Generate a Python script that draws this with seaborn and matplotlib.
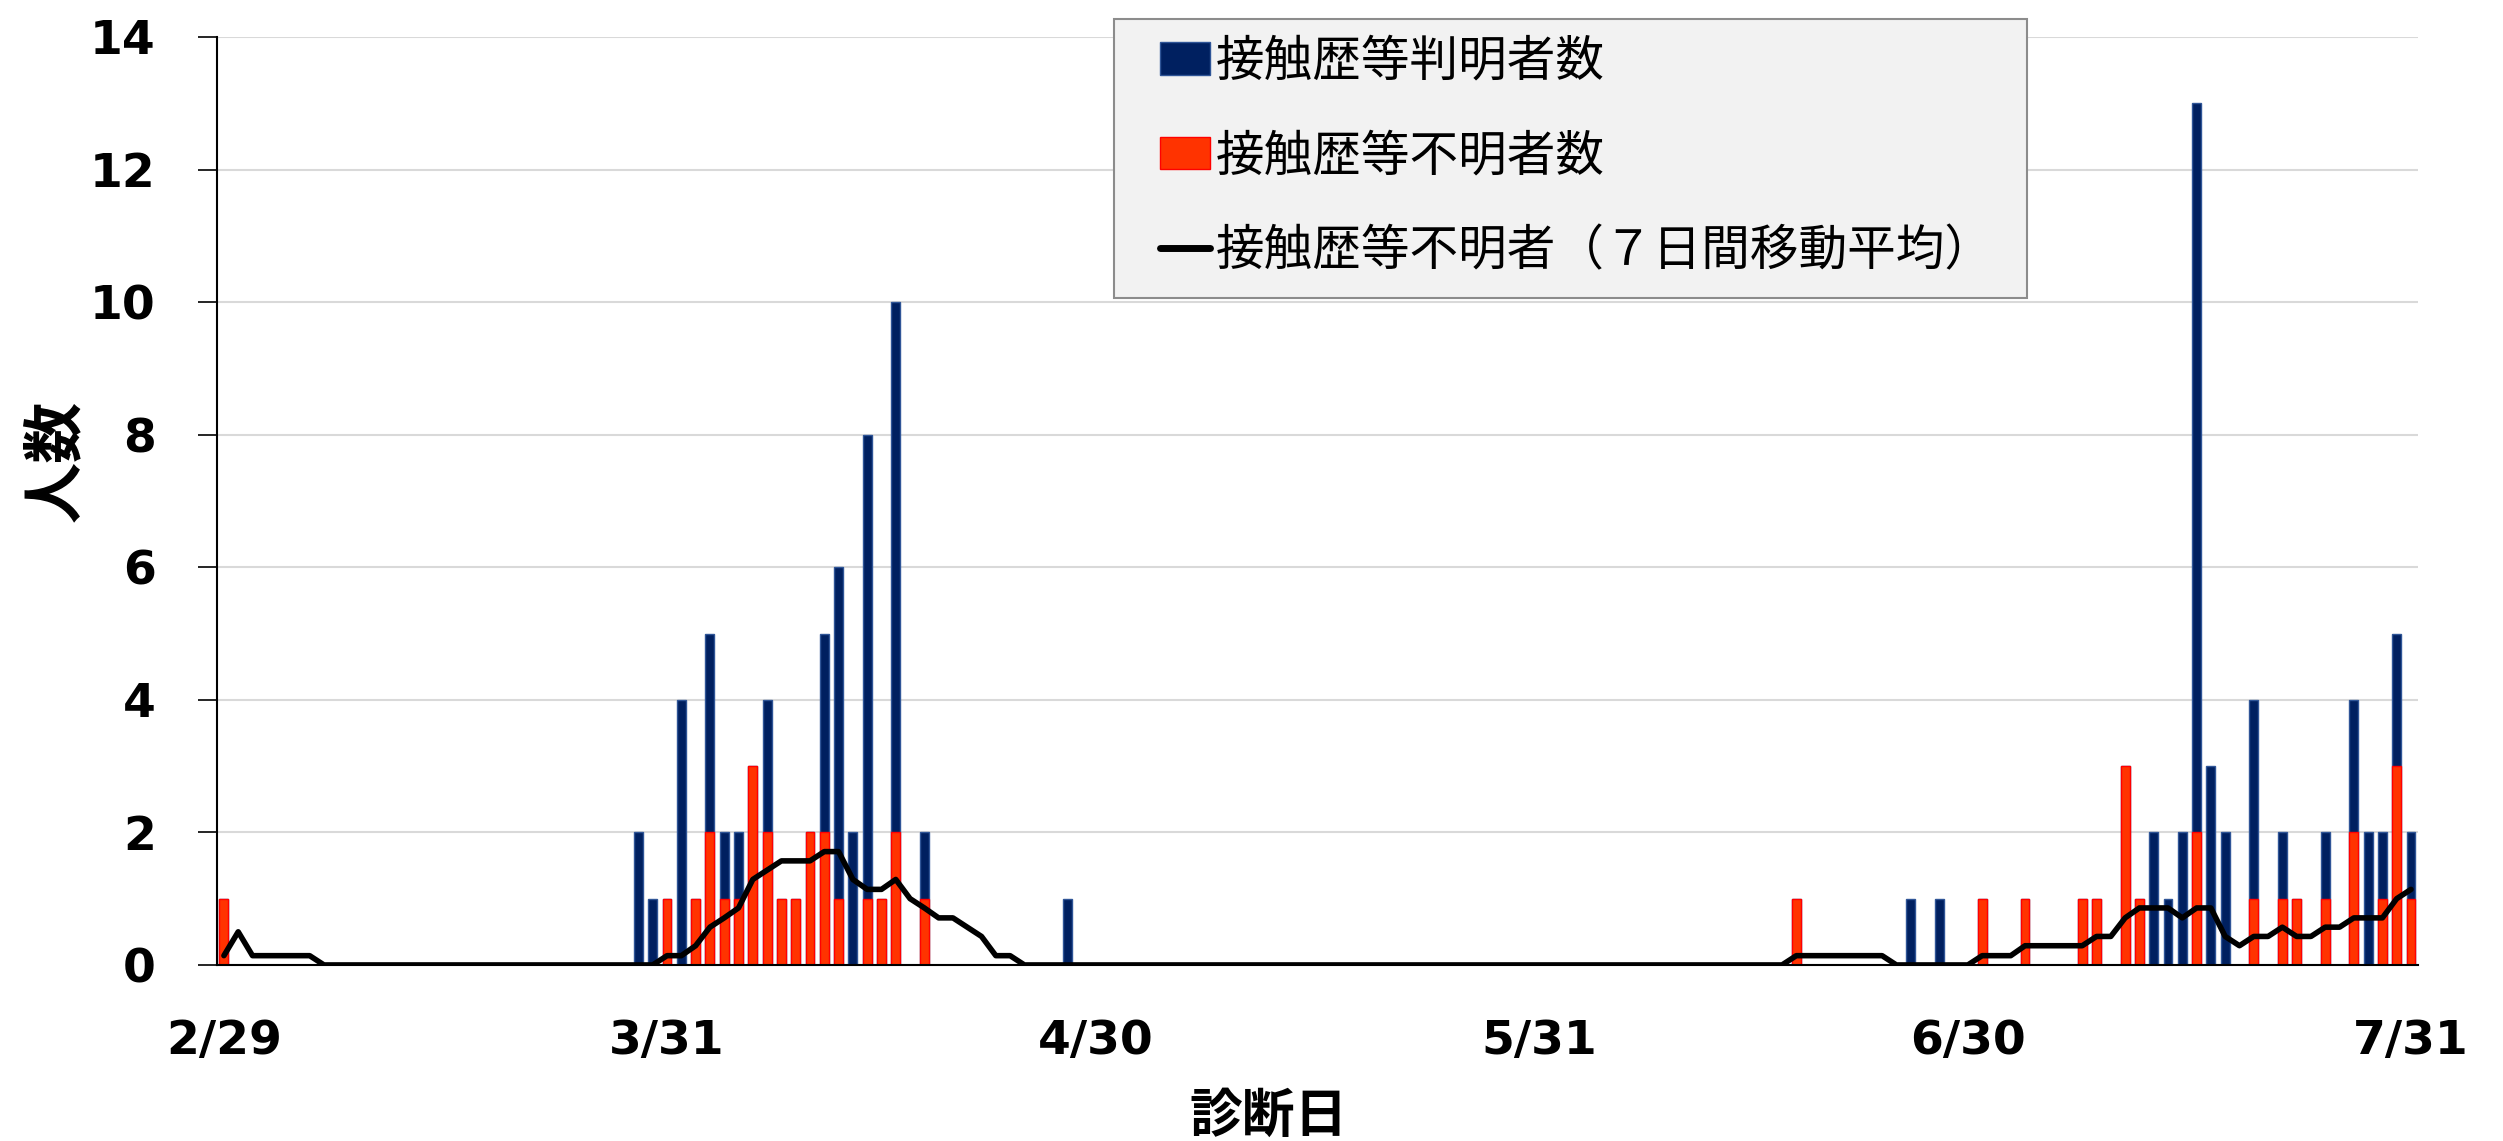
import numpy as np
import pandas as pd
import seaborn as sns
import matplotlib.pyplot as plt
from matplotlib.patches import Patch, Rectangle
from matplotlib.lines import Line2D

# data (2020/2/29 - 7/31)
known_dates = ['3/29', '3/30', '4/1', '4/3', '4/4', '4/5', '4/7', '4/11', '4/12', '4/13',
               '4/14', '4/16', '4/18', '4/28', '6/26', '6/28', '7/13', '7/14', '7/15', '7/16',
               '7/17', '7/18', '7/20', '7/22', '7/25', '7/27', '7/28', '7/29', '7/30', '7/31']
known_counts = [2, 1, 4, 3, 1, 1, 2, 3, 5, 2,
                7, 8, 1, 1, 1, 1, 2, 1, 2, 11,
                3, 2, 3, 1, 1, 2, 2, 1, 2, 1]

unknown_dates = ['2/29', '3/31', '4/2', '4/3', '4/4', '4/5', '4/6', '4/7', '4/8', '4/9',
                 '4/10', '4/11', '4/12', '4/14', '4/15', '4/16', '4/18', '6/18', '7/1', '7/4',
                 '7/8', '7/9', '7/11', '7/12', '7/16', '7/20', '7/22', '7/23', '7/25', '7/27',
                 '7/29', '7/30', '7/31']
unknown_counts = [1, 1, 1, 2, 1, 1, 3, 2, 1, 1,
                  2, 2, 1, 1, 1, 2, 1, 1, 1, 1,
                  1, 1, 3, 1, 2, 1, 1, 1, 1, 2,
                  1, 3, 1]

# 7-day moving average of unknown cases
ma_feb = [0.14]
ma_mar = [0.50, 0.14, 0.14, 0.14, 0.14, 0.14, 0, 0, 0, 0,
          0, 0, 0, 0, 0, 0, 0, 0, 0, 0,
          0, 0, 0, 0, 0, 0, 0, 0, 0, 0,
          0.14]
ma_apr = [0.14, 0.29, 0.57, 0.71, 0.86, 1.29, 1.43, 1.57, 1.57, 1.57,
          1.71, 1.71, 1.29, 1.14, 1.14, 1.29, 1.00, 0.86, 0.71, 0.71,
          0.57, 0.43, 0.14, 0.14, 0, 0, 0, 0, 0, 0]
ma_may = [0, 0, 0, 0, 0, 0, 0, 0, 0, 0,
          0, 0, 0, 0, 0, 0, 0, 0, 0, 0,
          0, 0, 0, 0, 0, 0, 0, 0, 0, 0,
          0]
ma_jun = [0, 0, 0, 0, 0, 0, 0, 0, 0, 0,
          0, 0, 0, 0, 0, 0, 0, 0.14, 0.14, 0.14,
          0.14, 0.14, 0.14, 0.14, 0, 0, 0, 0, 0, 0]
ma_jul = [0.14, 0.14, 0.14, 0.29, 0.29, 0.29, 0.29, 0.29, 0.43, 0.43,
          0.71, 0.86, 0.86, 0.86, 0.71, 0.86, 0.86, 0.43, 0.29, 0.43,
          0.43, 0.57, 0.43, 0.43, 0.57, 0.57, 0.71, 0.71, 0.71, 1.00,
          1.14]

tick_labels = ['2/29', '3/31', '4/30', '5/31', '6/30', '7/31']

labels = ['接触歴等判明者数', '接触歴等不明者数', '接触歴等不明者（７日間移動平均）']

navy = '#002060'
red = '#ff3300'

# build the table
days = pd.date_range('2020-02-29', '2020-07-31', freq='D')
df = pd.DataFrame({'date': [f'{d.month}/{d.day}' for d in days]})
df['pos'] = np.arange(len(df))
df['known'] = df['date'].map(dict(zip(known_dates, known_counts))).fillna(0)
df['unknown'] = df['date'].map(dict(zip(unknown_dates, unknown_counts))).fillna(0)
df['total'] = df['known'] + df['unknown']
ma = ma_feb + ma_mar + ma_apr + ma_may + ma_jun + ma_jul
assert len(ma) == len(df)
df['ma'] = ma

sns.set_theme(style='white')
plt.rcParams['font.family'] = ['Noto Sans CJK JP', 'DejaVu Sans']
plt.rcParams['text.color'] = 'black'
plt.rcParams['axes.labelcolor'] = 'black'
plt.rcParams['xtick.color'] = 'black'
plt.rcParams['ytick.color'] = 'black'

fig = plt.figure(figsize=(25.03, 11.41), dpi=100)
ax = fig.add_axes([0.0866, 0.1543, 0.8795, 0.8133])

sns.barplot(data=df, x='pos', y='total', native_scale=True, color=navy, saturation=1,
            width=0.62, edgecolor='#2f5597', linewidth=1, errorbar=None, ax=ax)
sns.barplot(data=df, x='pos', y='unknown', native_scale=True, color=red, saturation=1,
            width=0.62, edgecolor='#ff0000', linewidth=1, errorbar=None, ax=ax)
sns.lineplot(data=df, x='pos', y='ma', color='black', lw=4, ax=ax)

ax.set_xlim(-0.5, len(df) - 0.5)
ax.set_ylim(0, 14)
ax.yaxis.grid(True, color='#d9d9d9', lw=1.5)
ax.xaxis.grid(False)
ax.set_axisbelow(True)

tick_pos = [df.index[df['date'] == t][0] for t in tick_labels]
ax.set_xticks(tick_pos)
ax.set_xticklabels(tick_labels, fontfamily='DejaVu Sans', fontweight='bold', fontsize=34)
ax.set_yticks(range(0, 15, 2))
ax.set_yticklabels([str(v) for v in range(0, 15, 2)], fontfamily='DejaVu Sans',
                   fontweight='bold', fontsize=34)
ax.tick_params(axis='x', length=0, pad=39, labelcolor='black')
ax.tick_params(axis='y', left=True, length=14, width=1.2, pad=30, color='black',
               labelcolor='black')

for s in ['top', 'right']:
    ax.spines[s].set_visible(False)
ax.spines['left'].set_color('black')
ax.spines['left'].set_linewidth(1.5)
ax.spines['bottom'].set_color('black')
ax.spines['bottom'].set_linewidth(1.5)

ax.set_xlabel('診断日', fontsize=38, fontweight='bold')
ax.xaxis.set_label_coords(0.478, -0.135)
ax.set_ylabel('人数', fontsize=44, fontweight='bold')
ax.yaxis.set_label_coords(-0.059, 0.543)

# legend box drawn separately so the padding matches
box = Rectangle((0.4451, 0.7388), 0.3648, 0.2445, transform=fig.transFigure,
                facecolor='#f2f2f2', edgecolor='#8c8c8c', lw=1.5, zorder=4, clip_on=False)
ax.add_patch(box)

handles = [Patch(facecolor=navy, edgecolor='#2f5597'),
           Patch(facecolor=red, edgecolor='#ff0000'),
           Line2D([], [], color='black', lw=5)]
leg = ax.legend(handles, labels, loc='upper left', bbox_to_anchor=(0.4634, 0.9676),
                bbox_transform=fig.transFigure, borderaxespad=0, borderpad=0,
                fontsize=35, frameon=False, handlelength=1.03, handleheight=0.66,
                handletextpad=0.12, labelspacing=0.93)
leg.set_zorder(5)

fig.savefig('out.png', dpi=100)
